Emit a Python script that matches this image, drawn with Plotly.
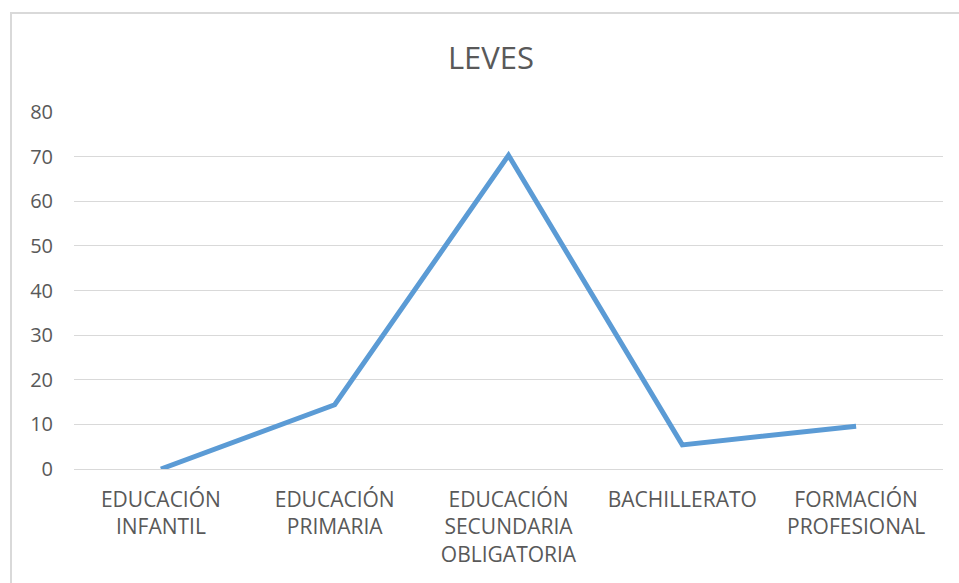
import plotly.graph_objects as go

categories = ["EDUCACIÓN<br>INFANTIL", "EDUCACIÓN<br>PRIMARIA", "EDUCACIÓN<br>SECUNDARIA<br>OBLIGATORIA",
              "BACHILLERATO", "FORMACIÓN<br>PROFESIONAL"]
values = [0, 14.4, 70.3, 5.4, 9.6]
y_ticks = [0, 10, 20, 30, 40, 50, 60, 70, 80]

W, H = 959, 583
L, R, T, B = 74, 16, 112, 114
pw = W - L - R
ph = H - T - B

font_family = "Open Sans, Lato, sans-serif"

fig = go.Figure()
fig.add_trace(go.Scatter(
    x=categories, y=values, mode="lines",
    line=dict(color="#5B9BD5", width=5),
    hoverinfo="x+y", showlegend=False,
))

fig.update_layout(
    width=W, height=H,
    margin=dict(l=L, r=R, t=T, b=B),
    paper_bgcolor="white", plot_bgcolor="white",
    title=dict(text="LEVES", x=491 / W, xanchor="center", y=1 - 58 / H, yanchor="middle",
               font=dict(family=font_family, size=31, color="#595959")),
    font=dict(family=font_family, color="#595959"),
    xaxis=dict(
        type="category", showgrid=False, zeroline=False, showline=False,
        tickfont=dict(size=21, color="#595959"), ticks="", ticklabelstandoff=16,
        range=[-0.5, 4.5],
    ),
    yaxis=dict(
        range=[0, 80], tickvals=y_ticks, showgrid=True, gridcolor="#d9d9d9", gridwidth=1,
        zeroline=True, zerolinecolor="#d9d9d9", zerolinewidth=1, showline=False,
        tickfont=dict(size=20, color="#595959"), ticks="", ticklabelstandoff=20,
    ),
    shapes=[dict(
        type="rect", xref="paper", yref="paper",
        x0=(11 - L) / pw, x1=(W + 50 - L) / pw,
        y0=-(H + 50 - T - ph) / ph, y1=(H - B - 13) / ph,
        line=dict(color="#d9d9d9", width=2), fillcolor="rgba(0,0,0,0)", layer="below",
    )],
)

fig.write_html("out.html", config={"displayModeBar": False},
               post_script="document.body.style.margin='0';document.body.style.overflow='hidden';")
